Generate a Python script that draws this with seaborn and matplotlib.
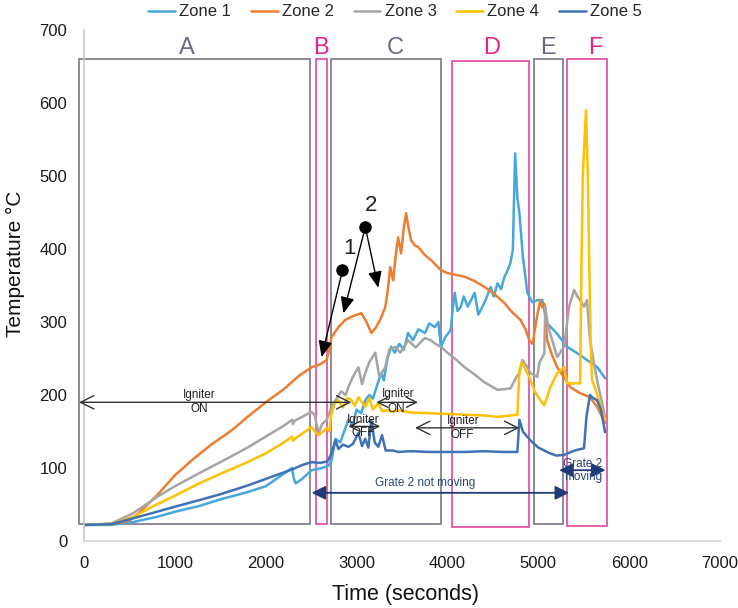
import numpy as np
import pandas as pd
import matplotlib
matplotlib.use("Agg")
import matplotlib.pyplot as plt
import seaborn as sns

# ---------------- data ----------------
zones = ["Zone 1", "Zone 2", "Zone 3", "Zone 4", "Zone 5"]

z1_x = [0, 300, 540, 800, 1000, 1270, 1500, 1800, 2000, 2290, 2310, 2330, 2400, 2505, 2620, 2690,
        2724, 2768, 2820, 2910, 2960, 3000, 3050, 3096, 3140, 3180, 3230, 3271, 3300, 3340, 3381,
        3420, 3470, 3520, 3567, 3620, 3680, 3753, 3800, 3862, 3900, 3928, 3980, 4037, 4060, 4081,
        4110, 4147, 4180, 4223, 4260, 4300, 4340, 4365, 4420, 4475, 4510, 4551, 4590, 4628, 4660,
        4694, 4720, 4745, 4770, 4792, 4830, 4880, 4934, 4990, 5044, 5098, 5200, 5317, 5420, 5536,
        5650, 5735]
z1_y = [22, 22, 26, 33, 40, 48, 57, 67, 75, 100, 85, 79, 85, 97, 100, 103,
        110, 140, 135, 166, 160, 180, 175, 193, 200, 195, 215, 230, 220, 250, 266,
        258, 270, 262, 285, 275, 290, 285, 298, 293, 300, 266, 280, 289, 320, 340,
        315, 321, 335, 321, 330, 340, 310, 316, 330, 348, 335, 353, 345, 362, 370,
        381, 399, 531, 470, 449, 390, 340, 327, 330, 330, 298, 285, 266, 258, 248,
        238, 223]

z2_x = [0, 200, 400, 500, 600, 800, 1000, 1200, 1400, 1630, 1800, 2000, 2200, 2363, 2505, 2600,
        2670, 2700, 2724, 2800, 2877, 2960, 3053, 3110, 3162, 3210, 3260, 3315, 3345, 3370, 3403,
        3430, 3457, 3490, 3520, 3545, 3570, 3600, 3640, 3676, 3750, 3818, 3928, 4000, 4190, 4300,
        4409, 4500, 4628, 4700, 4803, 4860, 4901, 4940, 4956, 4990, 5022, 5044, 5066, 5098, 5150,
        5208, 5280, 5350, 5450, 5569, 5646, 5735]
z2_y = [22, 23, 25, 28, 38, 62, 90, 112, 132, 152, 170, 190, 208, 226, 238, 242,
        248, 262, 279, 293, 303, 308, 312, 300, 285, 292, 303, 320, 345, 375, 357,
        390, 416, 394, 430, 449, 430, 412, 405, 403, 392, 385, 371, 367, 362, 356,
        348, 340, 326, 315, 303, 290, 275, 270, 285, 310, 330, 320, 325, 275, 255,
        238, 225, 211, 203, 197, 184, 162]

z3_x = [0, 300, 540, 800, 1000, 1270, 1500, 1800, 2000, 2200, 2290, 2300, 2320, 2400, 2505, 2540,
        2582, 2620, 2670, 2700, 2724, 2780, 2830, 2880, 2910, 2960, 3020, 3060, 3096, 3140, 3206,
        3250, 3315, 3360, 3424, 3480, 3567, 3650, 3750, 3818, 3870, 3928, 4000, 4100, 4190, 4300,
        4400, 4551, 4694, 4760, 4792, 4825, 4880, 4913, 4989, 5011, 5066, 5077, 5100, 5120, 5208,
        5284, 5339, 5394, 5430, 5460, 5503, 5536, 5569, 5646, 5735]
z3_y = [22, 24, 38, 60, 75, 93, 108, 128, 143, 158, 166, 160, 165, 170, 177, 172,
        148, 160, 166, 175, 184, 195, 205, 200, 211, 225, 238, 215, 230, 245, 258,
        225, 238, 262, 266, 258, 275, 265, 278, 275, 270, 266, 258, 248, 238, 228,
        218, 207, 209, 225, 230, 248, 238, 230, 225, 244, 257, 321, 300, 289, 252,
        266, 321, 344, 335, 330, 321, 330, 275, 221, 170]

z4_x = [0, 300, 540, 800, 1000, 1270, 1500, 1800, 2000, 2200, 2290, 2300, 2320, 2400, 2505, 2540,
        2582, 2630, 2670, 2700, 2724, 2760, 2800, 2850, 2900, 2943, 2980, 3020, 3060, 3096, 3140,
        3180, 3239, 3280, 3348, 3400, 3457, 3600, 3818, 4000, 4190, 4400, 4551, 4700, 4770, 4792,
        4820, 4847, 4913, 4960, 5022, 5066, 5131, 5208, 5241, 5284, 5317, 5394, 5460, 5475, 5490,
        5525, 5545, 5558, 5575, 5591, 5650, 5735]
z4_y = [22, 23, 33, 50, 62, 79, 92, 108, 120, 135, 143, 137, 140, 147, 156, 150,
        145, 150, 155, 150, 175, 188, 193, 183, 196, 193, 185, 197, 190, 184, 196,
        180, 189, 178, 179, 177, 179, 176, 175, 174, 173, 172, 170, 172, 173, 234,
        245, 238, 221, 205, 193, 186, 210, 230, 233, 238, 216, 216, 216, 380, 500,
        590, 500, 403, 280, 221, 200, 165]

z5_x = [0, 300, 540, 800, 1000, 1270, 1500, 1800, 2000, 2290, 2400, 2505, 2600, 2680, 2724, 2768,
        2800, 2850, 2910, 2960, 3020, 3060, 3096, 3130, 3162, 3200, 3239, 3280, 3320, 3400, 3457,
        3600, 3800, 4000, 4200, 4400, 4600, 4770, 4792, 4830, 4912, 5000, 5131, 5200, 5284, 5400,
        5503, 5530, 5569, 5600, 5646, 5690, 5735]
z5_y = [22, 23, 31, 40, 47, 56, 64, 76, 85, 98, 104, 108, 107, 109, 120, 138,
        126, 132, 129, 133, 148, 130, 140, 128, 166, 135, 129, 145, 124, 124, 122,
        123, 122, 122, 122, 123, 122, 122, 166, 150, 138, 128, 120, 117, 118, 124,
        127, 170, 200, 196, 193, 180, 149]

zone_colors = ["#45a7dc", "#ed7d31", "#a5a5a5", "#ffc000", "#3e72b8"]

# regions
region_labels = ["A", "B", "C", "D", "E", "F"]
region_x0 = [-55, 2549, 2724, 4048, 4956, 5317]
region_x1 = [2489, 2670, 3928, 4902, 5274, 5755]
region_y0 = [23, 23, 23, 19, 23, 21]
region_y1 = [660, 660, 660, 657, 660, 660]
region_label_x = [1127, 2604, 3424, 4486, 5109, 5623]
region_magenta = [False, True, False, True, False, True]

# ---------------- build table ----------------
frames = []
for name, xs, ys in zip(zones, [z1_x, z2_x, z3_x, z4_x, z5_x], [z1_y, z2_y, z3_y, z4_y, z5_y]):
    frames.append(pd.DataFrame({"Time": xs, "Temp": ys, "Zone": name}))
df = pd.concat(frames, ignore_index=True)

sns.set_style("white")
plt.rcParams["font.family"] = ["Liberation Sans", "DejaVu Sans"]

fig = plt.figure(figsize=(7.38, 6.08), dpi=100)
ax = fig.add_axes([84 / 738, (608 - 541) / 608, 636 / 738, 511 / 608])

sns.lineplot(data=df, x="Time", y="Temp", hue="Zone", palette=zone_colors,
             estimator=None, sort=False, linewidth=1.8, ax=ax, legend=True)
handles, labels = ax.get_legend_handles_labels()
ax.legend_.remove()

ax.set_xlim(0, 7000)
ax.set_ylim(0, 700)
ax.set_xticks(range(0, 7001, 1000))
ax.set_yticks(range(0, 701, 100))
ax.tick_params(axis="both", length=0, labelsize=12, colors="#1a1a1a")
ax.tick_params(axis="y", pad=12)
ax.tick_params(axis="x", pad=11)
for s in ["top", "right"]:
    ax.spines[s].set_visible(False)
ax.spines["left"].set_color("#c8c8c8")
ax.spines["bottom"].set_color("#d4d4d4")
ax.spines["left"].set_linewidth(1.2)
ax.spines["bottom"].set_linewidth(1.2)

ax.set_xlabel("Time (seconds)", fontsize=15.5, color="#111111")
ax.set_ylabel("Temperature °C", fontsize=15, color="#111111")
ax.xaxis.set_label_coords(0.505, -0.085)
ax.yaxis.set_label_coords(-0.093, 0.542)

# region boxes
gray_box = "#7c7585"
mag_box = "#e0479e"
gray_lab = "#6e6580"
mag_lab = "#e8228c"
for lab, x0, x1, y0, y1, lx, mag in zip(region_labels, region_x0, region_x1, region_y0,
                                        region_y1, region_label_x, region_magenta):
    rect = plt.Rectangle((x0, y0), x1 - x0, y1 - y0, fill=False,
                         edgecolor=mag_box if mag else gray_box, linewidth=1.2,
                         clip_on=False, zorder=1)
    ax.add_patch(rect)
    ax.text(lx, 676, lab, ha="center", va="center", fontsize=17,
            color=mag_lab if mag else gray_lab)

def dbl_arrow(x0, x1, y, color="#333333", style="<->", lw=1.0, ms=12):
    ax.annotate("", xy=(x0, y), xytext=(x1, y), annotation_clip=False,
                arrowprops=dict(arrowstyle=style, color=color, lw=lw,
                                mutation_scale=ms, shrinkA=0, shrinkB=0))

dbl_arrow(-55, 2943, 190, style="<->,head_length=0.8,head_width=0.4")
ax.text(1270, 200, "Igniter", ha="center", va="center", fontsize=8.5, color="#222222")
ax.text(1270, 181, "ON", ha="center", va="center", fontsize=8.5, color="#222222")

dbl_arrow(3217, 3676, 190, style="<->,head_length=0.6,head_width=0.3")
ax.text(3457, 201, "Igniter", ha="center", va="center", fontsize=8.5, color="#222222")
ax.text(3440, 181, "ON", ha="center", va="center", fontsize=8.5, color="#222222")

dbl_arrow(2910, 3260, 157, style="<->,head_length=0.6,head_width=0.3")
ax.text(3074, 166, "Igniter", ha="center", va="center", fontsize=8.5, color="#222222")
ax.text(3074, 148, "OFF", ha="center", va="center", fontsize=8.5, color="#222222")

dbl_arrow(3643, 4792, 155, style="<->,head_length=0.8,head_width=0.4")
ax.text(4168, 164, "Igniter", ha="center", va="center", fontsize=8.5, color="#222222")
ax.text(4168, 145, "OFF", ha="center", va="center", fontsize=8.5, color="#222222")

navy = "#1f3a78"
dbl_arrow(2505, 5339, 66, color=navy, style="<|-|>,head_length=0.6,head_width=0.3", lw=1.3, ms=14)
ax.text(3753, 80, "Grate 2 not moving", ha="center", va="center", fontsize=8.5, color="#2b4575")
dbl_arrow(5230, 5740, 97, color=navy, style="<|-|>,head_length=0.6,head_width=0.3", lw=1.3, ms=14)
ax.text(5490, 105, "Grate 2", ha="center", va="center", fontsize=8.5, color="#2b4575")
ax.text(5490, 88, "moving", ha="center", va="center", fontsize=8.5, color="#2b4575")

ax.plot([2845], [371], "o", color="black", ms=8, zorder=5)
ax.plot([3096], [430], "o", color="black", ms=8, zorder=5)
for (sx, sy), (tx, ty) in [((2845, 371), (2615, 252)),
                           ((3096, 430), (2856, 312)),
                           ((3096, 430), (3239, 347))]:
    ax.annotate("", xy=(tx, ty), xytext=(sx, sy),
                arrowprops=dict(arrowstyle="-|>,head_length=0.7,head_width=0.3",
                                color="black", lw=1.0, mutation_scale=14,
                                shrinkA=0, shrinkB=0))
ax.text(2921, 401, "1", ha="center", va="center", fontsize=16, color="#222222")
ax.text(3162, 460, "2", ha="center", va="center", fontsize=16, color="#222222")

fig.legend(handles, labels, loc="center", bbox_to_anchor=(395 / 738, 1 - 12 / 608),
           ncol=5, frameon=False, fontsize=12, handlelength=1.6, handletextpad=0.25,
           columnspacing=1.2, borderaxespad=0)

fig.savefig("out.png", dpi=100)
